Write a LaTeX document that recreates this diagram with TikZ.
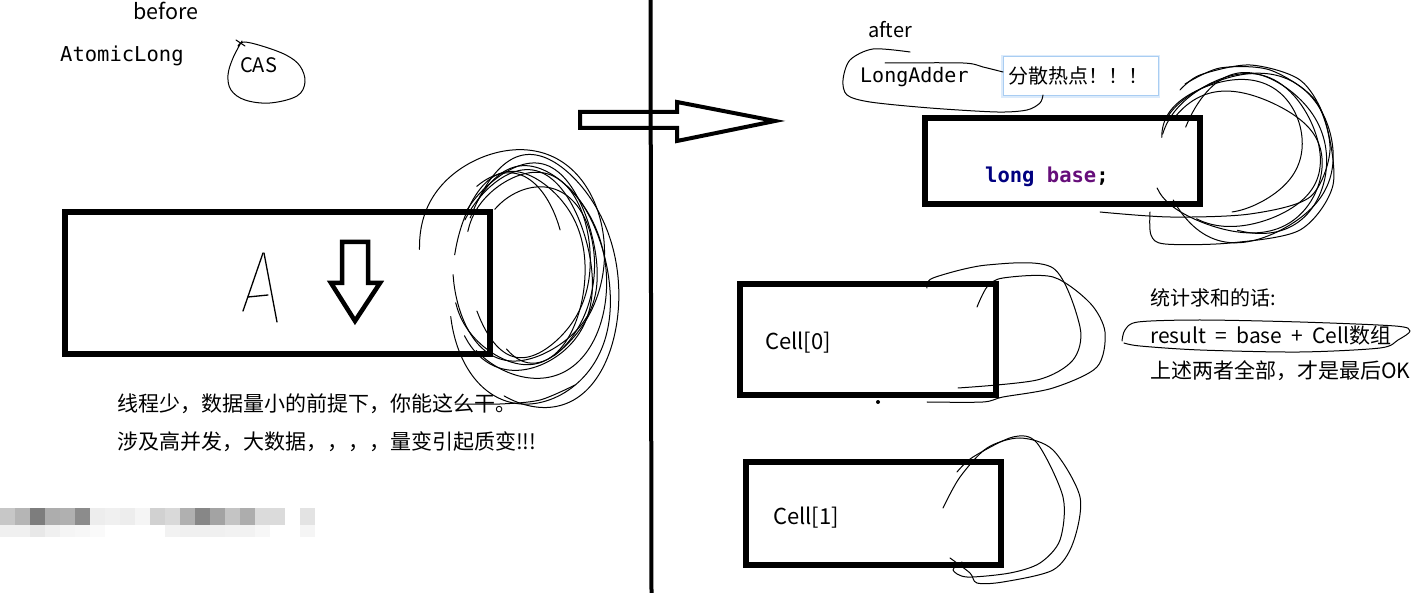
\documentclass[tikz,border=0pt]{standalone}
\usepackage{fontspec}
\setmainfont{Noto Sans CJK SC}
\newfontfamily\monofont{DejaVu Sans Mono}
\definecolor{kwnavy}{HTML}{000080}
\definecolor{fieldpurple}{HTML}{660E7A}
\definecolor{tipblue}{HTML}{A9CDF2}
\definecolor{tipglow}{HTML}{DCEBFB}
\newcommand\scribloop[8]{\draw[scrib] plot[domain=#5:#6, samples=60, smooth, variable=\t] ({#1+#3*cos(\t)+#7*sin(2*\t)},{#2+#4*sin(\t)+#8*cos(3*\t)});}
\newcommand\widesp{\hspace{0.44em}}
\begin{document}
\begin{tikzpicture}[x=1pt,y=-1pt,
  txt/.style={inner sep=0pt, anchor=base west, font=\fontsize{20}{24}\selectfont},
  monotxt/.style={inner sep=0pt, anchor=base west, font=\monofont\fontsize{20.5}{24}\selectfont},
  thickbox/.style={draw, line width=6pt, inner sep=0pt},
  tipbox/.style={draw=tipblue, line width=1pt, fill=white, inner sep=0pt,
                 preaction={draw=tipglow, line width=4pt}},
  scrib/.style={draw, line width=1pt, line cap=round, line join=round},
  fatarrow/.style={draw, line width=4.5pt, line join=miter},
  handA/.style={draw, line width=1.3pt, line cap=round}]
\useasboundingbox (0,0) rectangle (1428,593);
\fill[white] (0,0) rectangle (1428,593);

% ---------- left half ----------
\node[txt, font=\fontsize{21.5}{24}\selectfont] (before) at (133,20) {before};
\node[monotxt] (atomic) at (60,62) {AtomicLong};
\node[txt] (cas) at (240,73) {CAS};
\draw[scrib] plot[smooth, tension=0.6] coordinates {(238,46) (244,42) (262,46) (286,55) (300,66) (305,82) (297,96) (270,103) (245,100) (231,90) (228,75) (233,58) (242,41)};
\draw[scrib] (236,40) -- (245,46);

\node[thickbox, minimum width=425, minimum height=142] (boxA) at (277.5,283) {};

% hand written A
\draw[handA] (243,311) -- (263,253);
\draw[handA] (264,253) -- (277,322);
\draw[handA] (248,297) -- (268,295);

% down arrow
\draw[fatarrow] (342,242) -- (368,242) -- (368,283) -- (380,283) -- (355,321) -- (331,283) -- (342,283) -- cycle;

% scribbles around the right edge of box A
\scribloop{522}{270}{70}{100}{-150}{140}{4}{3}
\scribloop{528}{265}{62}{92}{-160}{150}{-3}{4}
\scribloop{530}{272}{76}{106}{-140}{130}{5}{-3}
\scribloop{519}{268}{66}{96}{-170}{160}{2}{-4}
\scribloop{536}{275}{58}{88}{-130}{125}{-4}{2}
\scribloop{525}{262}{72}{98}{-150}{170}{3}{5}
\scribloop{536}{281}{82}{126}{-150}{110}{6}{-4}
\scribloop{512}{262}{92}{112}{-175}{60}{-5}{3}
\scribloop{530}{288}{80}{116}{-60}{165}{4}{2}
\scribloop{505}{258}{60}{85}{-120}{-20}{2}{2}
\draw[scrib] plot[smooth] coordinates {(575,385) (540,400) (500,404) (455,404)};

\node[txt, font=\fontsize{21}{24}\selectfont] (line1) at (117,412) {线程少，数据量小的前提下，你能这么干。};
\node[txt, font=\fontsize{21}{24}\selectfont] (line2) at (117,449.5) {涉及高并发，大数据，，，，量变引起质变!!!};

% pixelated watermark
\foreach \c [count=\i from 0] in {22,29,51,32,31,45,7,6,7,4,18,15,31,47,36,23,32,14,14,0,11}
  \fill[black!\c] (\i*15,508) rectangle ++(15,17);
\foreach \c [count=\i from 0] in {6,6,9,6,4,3,2,0,0,0,0,5,6,6,6,5,5,3,0,0,4}
  \fill[black!\c] (\i*15,525) rectangle ++(15,12);

% ---------- divider and big arrow ----------
\draw[line width=4pt] (650.5,0) -- (651.5,593);
\draw[line width=4pt, line join=miter] (580,112) -- (677,112) -- (677,102) -- (775,121) -- (677,141) -- (677,128) -- (580,128) -- cycle;

% ---------- right half ----------
\node[txt] (after) at (868,38) {after};
\node[monotxt, font=\monofont\fontsize{20}{24}\selectfont] (longadder) at (860,83) {LongAdder};
\node[tipbox, minimum width=155, minimum height=39] (tip) at (1080.5,76.5) {};
\node[txt] (tiptext) at (1008,84) {分散热点！！！};
\draw[scrib] plot[smooth] coordinates {(910,52) (873,49) (850,60) (843,80) (847,95) (870,102) (930,108) (997,112) (1027,110) (1040,103) (1043,95)};
\draw[scrib] plot[smooth] coordinates {(885,63) (963,63) (983,67) (1003,72)};

\node[thickbox, minimum width=275.5, minimum height=86] (baseBox) at (1062.25,161) {};
\node[inner sep=0pt, anchor=base west, font=\monofont\bfseries\fontsize{20.5}{24}\selectfont] (longbase) at (985,183) {\textcolor{kwnavy}{long} \textcolor{fieldpurple}{base};};

% scribbles around base box
\scribloop{1240}{150}{80}{76}{-170}{120}{4}{3}
\scribloop{1246}{158}{87}{84}{-150}{150}{-3}{4}
\scribloop{1252}{153}{74}{80}{-160}{100}{5}{-3}
\scribloop{1238}{162}{84}{70}{-140}{160}{3}{-4}
\scribloop{1232}{146}{70}{66}{-175}{90}{-3}{3}
\draw[scrib] plot[smooth] coordinates {(1180,90) (1200,75) (1250,65) (1300,80) (1325,120) (1333,185) (1300,230) (1230,243) (1165,244) (1151,235) (1150,212)};
\draw[scrib] plot[smooth] coordinates {(1100,212) (1170,217) (1250,214) (1310,197) (1330,150) (1315,100) (1270,70) (1220,68) (1185,84)};

% Cell[0]
\node[thickbox, minimum width=255.5, minimum height=111] (cell0box) at (867.75,339.5) {};
\node[txt, font=\fontsize{22}{24}\selectfont] (cell0) at (765,350) {Cell[0]};
\draw[scrib] plot[smooth] coordinates {(927,288) (933,278) (987,265) (1053,268) (1080,327) (1073,360) (1037,380) (958,388)};
\draw[scrib] plot[smooth] coordinates {(977,307) (987,287) (1003,278) (1053,277) (1090,303) (1105,332) (1097,367) (1053,388) (1003,397) (983,402) (927,402)};
\fill (878,402) circle (2);

% Cell[1]
\node[thickbox, minimum width=255, minimum height=103] (cell1box) at (873.5,513.5) {};
\node[txt, font=\fontsize{22}{24}\selectfont] (cell1) at (773,525) {Cell[1]};
\draw[scrib] plot[smooth] coordinates {(943,508) (960,477) (987,448) (1020,438) (1053,450) (1080,497) (1073,543) (1053,570) (1003,582) (977,583) (970,573) (950,558)};
\draw[scrib] plot[smooth] coordinates {(957,472) (973,457) (1013,437) (1037,443) (1063,497) (1060,540) (1040,563) (1010,573) (967,577) (953,570) (962,562)};

% summation text
\node[txt] (sum1) at (1150,306) {统计求和的话:};
\node[txt, font=\fontsize{21}{24}\selectfont] (sum2) at (1150,344) {result\widesp=\widesp base\widesp+\widesp Cell数组};
\node[txt, font=\fontsize{21}{24}\selectfont] (sum3) at (1150,379) {上述两者全部，才是最后OK};
\draw[scrib] plot[smooth] coordinates {(1122,341) (1125,330) (1138,322) (1200,320) (1300,322) (1395,326) (1410,331) (1398,340) (1380,348) (1300,352) (1200,350) (1140,346) (1124,343)};
\end{tikzpicture}
\end{document}
